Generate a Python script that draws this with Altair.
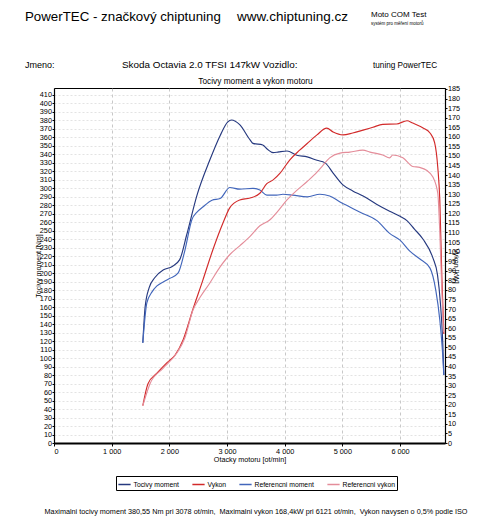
import altair as alt
import pandas as pd

FONT = "Liberation Sans"

# ---- data read from the dyno sheet ----
rpm_tq = [1540, 1580, 1650, 1750, 1900, 2050, 2180, 2300, 2480, 2700, 2880, 3010, 3078, 3220, 3400, 3450,
          3620, 3700, 3800, 3900, 4040, 4210, 4390, 4560, 4700, 4840, 5010, 5180, 5360, 5600, 5820, 6000,
          6120, 6250, 6400, 6570, 6650, 6700, 6740, 6760]
tq = [118, 160, 183, 195, 204, 208, 216, 245, 292, 333, 362, 378, 380.5, 375, 357, 353,
      351, 346, 342, 343, 344, 339, 337, 333, 330, 318, 304, 297, 291, 281, 273, 267,
      262, 252, 240, 218, 198, 165, 120, 80]

rpm_pw = [1540, 1630, 1785, 1960, 2100, 2240, 2410, 2580, 2755, 2930, 3050, 3220, 3400, 3570, 3690, 3800,
          3920, 4090, 4260, 4390, 4560, 4730, 4840, 5010, 5180, 5360, 5530, 5700, 5940, 6121, 6220, 6400,
          6520, 6600, 6655, 6690, 6725, 6760]
pw = [19.5, 31, 36.5, 42, 46, 54, 70, 85, 101, 115, 123, 127, 128, 130.5, 135.5, 137.5,
      141, 148, 153, 156.5, 161, 164.5, 162.5, 161, 162, 163.5, 165, 166.5, 166.7, 168.4, 167.2, 164.6,
      162, 157, 144, 127, 87, 57]

rpm_rtq = [1540, 1610, 1700, 1785, 1900, 2010, 2150, 2270, 2390, 2480, 2580, 2740, 2880, 3050, 3220, 3450,
           3570, 3690, 3860, 3970, 4140, 4390, 4610, 4780, 4960, 5130, 5300, 5600, 5820, 6000, 6170, 6340,
           6520, 6620, 6690, 6740, 6760]
rtq = [118, 165, 178, 185, 190, 194, 200, 227, 263, 272, 278, 286, 288, 301, 299, 300,
       298, 292, 292, 293, 292, 290, 293, 291, 284, 278, 272, 262, 247, 239, 226, 217,
       206, 180, 145, 104, 80]

rpm_rpw = [1540, 1665, 1890, 2130, 2270, 2410, 2530, 2700, 2880, 3050, 3220, 3400, 3570, 3740, 3865, 4040,
           4210, 4385, 4560, 4660, 4780, 4960, 5130, 5355, 5480, 5700, 5820, 5875, 6050, 6220, 6340, 6460,
           6570, 6655, 6690, 6725, 6755]
rpw = [19.5, 31, 39, 47, 55, 69.5, 76, 83.5, 92, 98.5, 103, 108, 113.5, 116.5, 120.5, 127,
       132, 136.5, 141.5, 145, 149, 151.5, 152, 153, 152, 150.5, 149, 150.5, 149, 144.5, 144, 142.5,
       139, 130.5, 110, 80, 58]

series_names = ["Tocivy moment", "Vykon", "Referencni moment", "Referencni vykon"]
series_colors = ["#26397f", "#d22a2a", "#4266bb", "#e48d9a"]

x_ticks = [0, 1000, 2000, 3000, 4000, 5000, 6000]
left_ticks = list(range(0, 411, 10))
right_ticks = list(range(0, 186, 5))

torque_df = pd.DataFrame({
    "rpm": rpm_tq + rpm_rtq,
    "val": tq + rtq,
    "series": ["Tocivy moment"] * len(tq) + ["Referencni moment"] * len(rtq),
})
power_df = pd.DataFrame({
    "rpm": rpm_pw + rpm_rpw,
    "val": pw + rpw,
    "series": ["Vykon"] * len(pw) + ["Referencni vykon"] * len(rpw),
})

NB = "\u00a0" * 26
color = alt.Color(
    "series:N",
    scale=alt.Scale(domain=series_names, range=series_colors),
    legend=alt.Legend(
        title=None, orient="none", legendX=62, legendY=388, direction="horizontal",
        columns=4, gridAlign="none", columnPadding=9, symbolType="stroke",
        symbolSize=150, symbolStrokeWidth=1.5, labelFontSize=6.8, labelFont=FONT,
        labelColor="black", labelOffset=2, fillColor="white", strokeColor="black",
        padding=1.5, labelLimit=250,
        labelExpr="datum.label == 'Vykon' ? 'Vykon" + NB + "' : datum.label",
    ),
)

x_enc = alt.X(
    "rpm:Q",
    scale=alt.Scale(domain=[0, 6780], nice=False, zero=False),
    axis=alt.Axis(
        values=x_ticks,
        labelExpr="datum.value == 0 ? '0' : replace(format(datum.value, ','), ',', ' ')",
        title="Otacky motoru [ot/min]", grid=True, gridDash=[3, 3], gridColor="#b0b0b0",
        gridWidth=0.7, tickSize=3, labelFontSize=7.3, titleFontSize=7.2, labelPadding=1,
        titlePadding=1.5, domainColor="black", domainWidth=2, tickColor="black",
        labelColor="black", titleColor="black", titleFontWeight="normal",
        labelFont=FONT, titleFont=FONT,
    ),
)

torque = alt.Chart(torque_df).mark_line(strokeWidth=1.15, interpolate="monotone").encode(
    x=x_enc,
    y=alt.Y(
        "val:Q",
        scale=alt.Scale(domain=[0, 418.2], nice=False),
        axis=alt.Axis(
            orient="left", values=left_ticks, title="Tocivy moment [Nm]", titleAngle=270,
            titleX=-16, titleY=177.5, titleAlign="center", titleBaseline="middle",
            grid=True, gridDash=[2, 2], gridColor="#d0d0d0", gridWidth=0.6,
            tickSize=2, labelFontSize=7.3, titleFontSize=7, labelPadding=0.5,
            domainColor="black", domainWidth=1.2, tickColor="black", labelColor="black",
            titleColor="black", titleFontWeight="normal", labelFont=FONT, titleFont=FONT,
        ),
    ),
    color=color,
)

power = alt.Chart(power_df).mark_line(strokeWidth=1.15, interpolate="monotone").encode(
    x=x_enc,
    y=alt.Y(
        "val:Q",
        scale=alt.Scale(domain=[0, 185.5], nice=False),
        axis=alt.Axis(
            orient="right", values=right_ticks, title="Vykon [kW]", titleAngle=90,
            titleX=10, titleY=177.5, titleAlign="center", titleBaseline="middle",
            grid=False, tickSize=2, labelFontSize=7.3, titleFontSize=7, labelPadding=0.5,
            domainColor="black", domainWidth=1.2, tickColor="black", labelColor="black",
            titleColor="black", titleFontWeight="normal", labelFont=FONT, titleFont=FONT,
        ),
    ),
    color=color,
)


def txt(s, x, y, size, align="left", weight="normal", color="black"):
    return alt.Chart(pd.DataFrame({"t": [s]})).mark_text(
        align=align, baseline="alphabetic", fontSize=size, font=FONT, color=color,
        fontWeight=weight,
    ).encode(x=alt.value(x), y=alt.value(y), text="t:N")


texts = [
    txt("PowerTEC - značkový chiptuning", -29, -67, 13.3),
    txt("www.chiptuning.cz", 183, -67, 13.5),
    txt("Moto COM Test", 317, -71, 8),
    txt("systém pro měření motorů", 317, -63.5, 4.5),
    txt("Jmeno:", -29, -20, 9),
    txt("Skoda Octavia 2.0 TFSI 147kW Vozidlo:", 68, -20, 9.9),
    txt("tuning PowerTEC", 319, -20, 8.2),
    txt("Tocivy moment a vykon motoru", 201.5, -4, 8.3, align="center"),
    txt("Maximalni tocivy moment 380,55 Nm pri 3078 ot/min, \u00a0Maximalni vykon 168,4kW pri 6121 ot/min, "
        "\u00a0Vykon navysen o 0,5% podle ISO", 202, 426, 7.25, align="center"),
]

chart = alt.layer(torque, power, *texts).resolve_scale(y="independent").properties(
    width=391, height=355,
    padding={"left": 54, "top": 88, "right": 35, "bottom": 78},
    autosize=alt.AutoSizeParams(type="none"),
    background="white",
).configure_view(stroke="black", strokeWidth=1)

chart.save("out.html", embed_options={"renderer": "svg", "actions": False})
